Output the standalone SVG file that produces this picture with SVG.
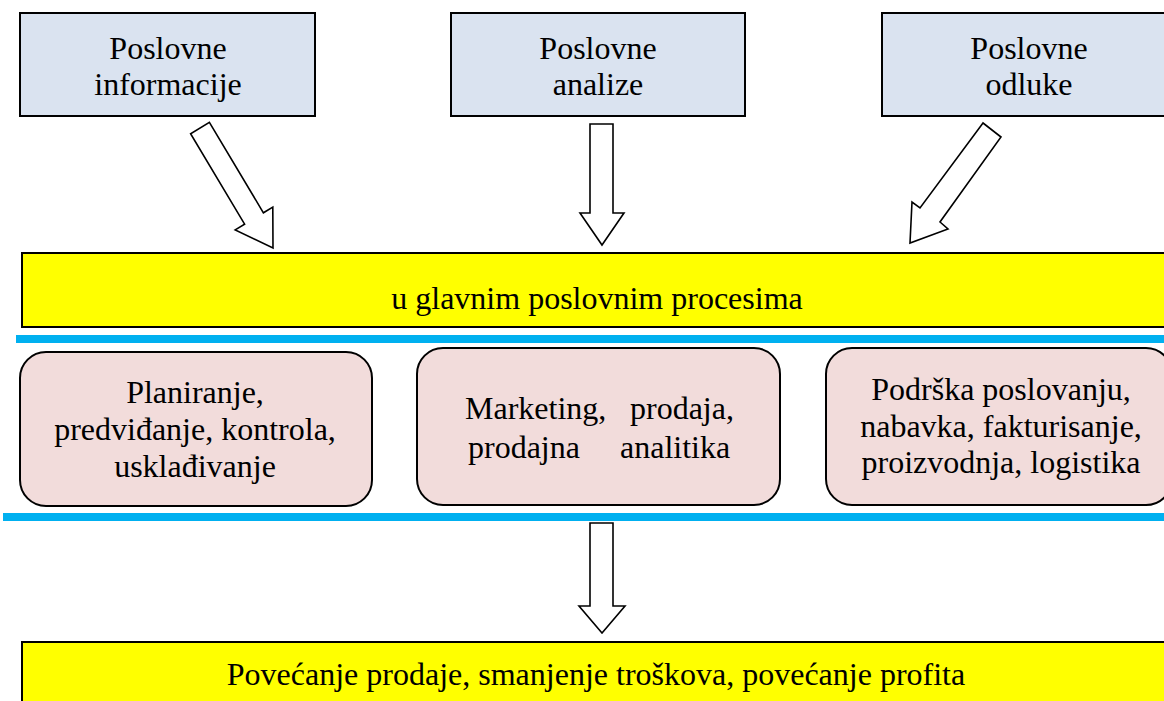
<svg xmlns="http://www.w3.org/2000/svg" width="1164" height="701" viewBox="0 0 1164 701" font-family="Liberation Serif, Times New Roman, serif" font-size="32">
  <style>
    .src { fill: #dae3f0; stroke: #000; stroke-width: 2; }
    .bar { fill: #ffff00; stroke: #000; stroke-width: 2; }
    .proc { fill: #f2dcdb; stroke: #000; stroke-width: 2; }
    .sep { fill: #00b0f0; }
    .arrow { fill: #fff; stroke: #000; stroke-width: 1.6; stroke-linejoin: miter; }
    .c { text-anchor: middle; }
  </style>

  <!-- source boxes -->
  <g id="info">
    <rect class="src" x="20" y="13" width="295" height="103"/>
    <text class="c" x="168" y="59">Poslovne</text>
    <text class="c" x="168" y="95">informacije</text>
  </g>
  <g id="analize">
    <rect class="src" x="451" y="13" width="294" height="103"/>
    <text class="c" x="598" y="59">Poslovne</text>
    <text class="c" x="598" y="95">analize</text>
  </g>
  <g id="odluke">
    <rect class="src" x="882" y="13" width="290" height="103"/>
    <text class="c" x="1029" y="59">Poslovne</text>
    <text class="c" x="1029" y="95">odluke</text>
  </g>

  <!-- main processes bar -->
  <g id="procesi">
    <rect class="bar" x="22" y="253" width="1150" height="74"/>
    <text class="c" x="597" y="309">u glavnim poslovnim procesima</text>
  </g>

  <!-- separator lines -->
  <rect class="sep" x="16" y="335" width="1150" height="8"/>
  <rect class="sep" x="3" y="513" width="1163" height="8"/>

  <!-- process boxes -->
  <g id="planiranje">
    <rect class="proc" x="20" y="352" width="352" height="154" rx="26" ry="26"/>
    <text class="c" x="195" y="403">Planiranje,</text>
    <text class="c" x="195" y="440">predviđanje, kontrola,</text>
    <text class="c" x="195" y="477">usklađivanje</text>
  </g>
  <g id="marketing">
    <rect class="proc" x="417" y="348" width="363" height="157" rx="26" ry="26"/>
    <text x="465" y="419">Marketing,</text>
    <text x="630" y="419">prodaja,</text>
    <text x="468" y="458">prodajna</text>
    <text x="620" y="458">analitika</text>
  </g>
  <g id="podrska">
    <rect class="proc" x="826" y="348" width="346" height="157" rx="26" ry="26"/>
    <text class="c" x="1001" y="400">Podrška poslovanju,</text>
    <text class="c" x="1001" y="437">nabavka, fakturisanje,</text>
    <text class="c" x="1001" y="473">proizvodnja, logistika</text>
  </g>

  <!-- result bar -->
  <g id="rezultat">
    <rect class="bar" x="22" y="642" width="1150" height="70"/>
    <text class="c" x="596" y="685">Povećanje prodaje, smanjenje troškova, povećanje profita</text>
  </g>

  <!-- block arrows -->
  <g id="connectors">
    <polygon class="arrow" points="209.4,122.3 263.4,212.8 272.8,207.1 273,248 235.2,229.9 244.6,224.2 190.6,133.7"/>
    <polygon class="arrow" points="590,124 613,124 613,213 624,213 602,245 580,213 590,213"/>
    <polygon class="arrow" points="983,123 920,208 912,202 910,243 948,229 940,222 1001,137"/>
    <polygon class="arrow" points="590,523 613,523 613,606 625,606 602,633 579,606 590,606"/>
  </g>
</svg>
